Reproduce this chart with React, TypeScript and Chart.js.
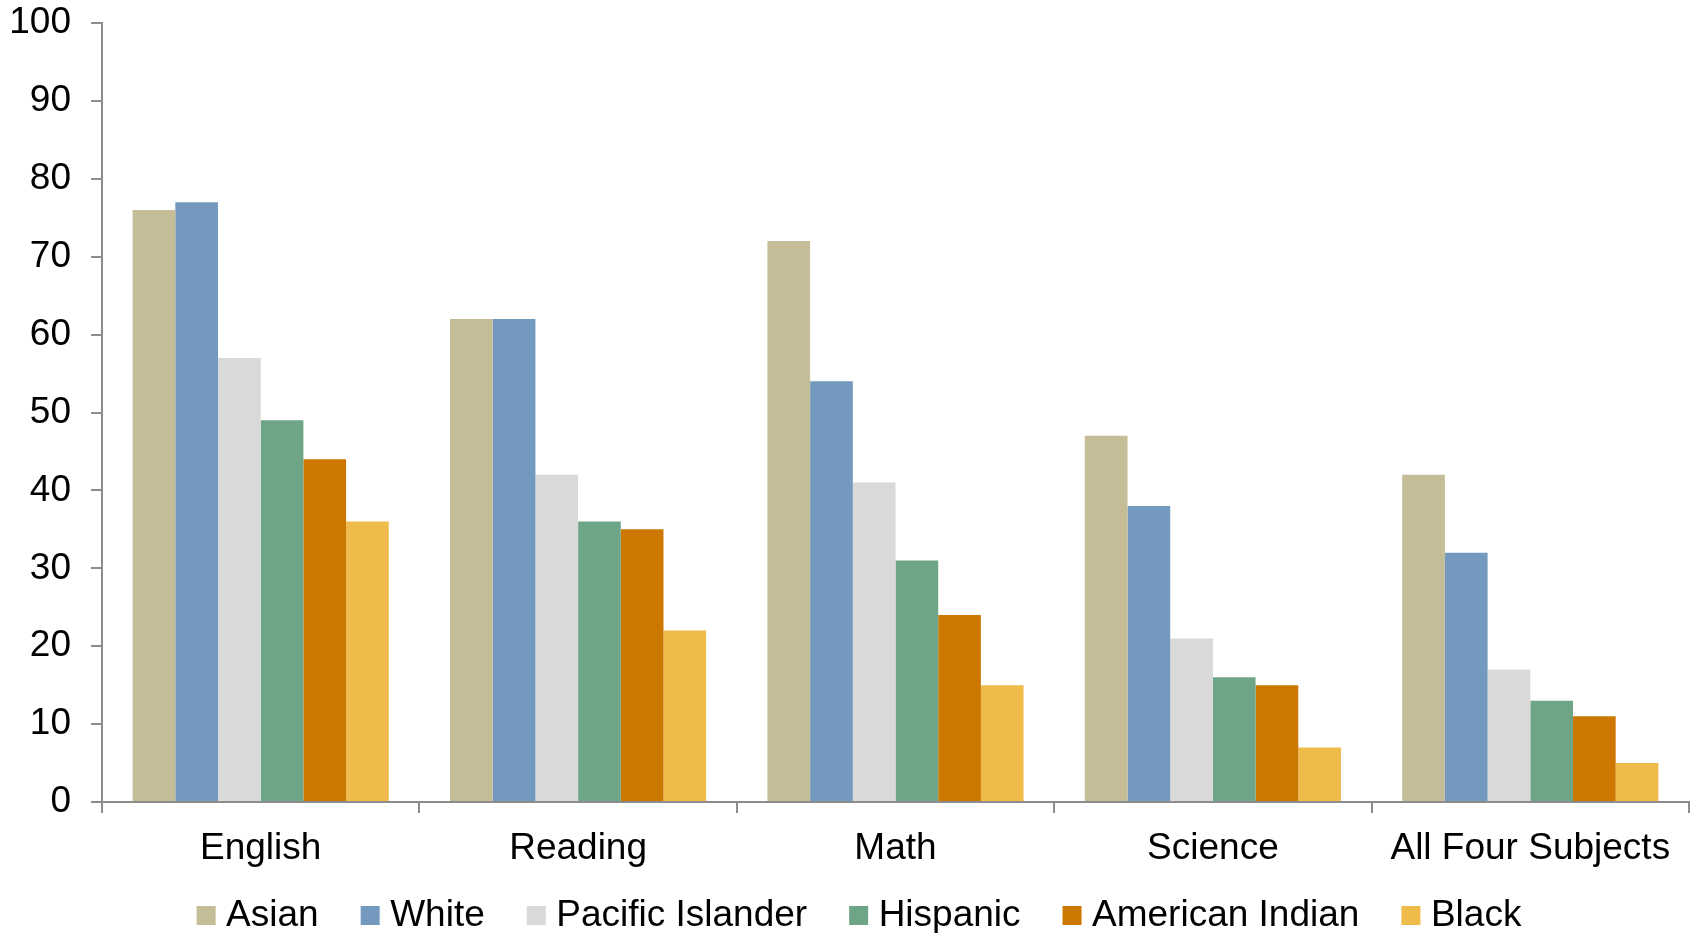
import React, { useEffect, useRef } from "react";
import { Chart, registerables } from "chart.js";

Chart.register(...registerables);

const categories = ["English", "Reading", "Math", "Science", "All Four Subjects"];
const seriesNames = ["Asian", "White", "Pacific Islander", "Hispanic", "American Indian", "Black"];
const asian = [76, 62, 72, 47, 42];
const white = [77, 62, 54, 38, 32];
const pacificIslander = [57, 42, 41, 21, 17];
const hispanic = [49, 36, 31, 16, 13];
const americanIndian = [44, 35, 24, 15, 11];
const black = [36, 22, 15, 7, 5];
const yTicks = [0, 10, 20, 30, 40, 50, 60, 70, 80, 90, 100];

const seriesValues = [asian, white, pacificIslander, hispanic, americanIndian, black];
const seriesColors = ["#C4BD97", "#7399BF", "#D9D9D9", "#6FA587", "#CC7700", "#EFBC4B"];

const legendShift = {
  id: "legendShift",
  afterLayout(chart: any) {
    const l = chart.legend;
    if (l) {
      l.left += 28;
      l.top -= 26;
      l.bottom -= 26;
    }
  },
};

export default function App() {
  const ref = useRef<HTMLCanvasElement | null>(null);
  useEffect(() => {
    if (!ref.current) return;
    const axisColor = "#8C8C8C";
    const font = { family: "'Liberation Sans', Arial, sans-serif", size: 37 };
    const chart = new Chart(ref.current, {
      type: "bar",
      data: {
        labels: categories,
        datasets: seriesNames.map((name, i) => ({
          label: name,
          data: seriesValues[i],
          backgroundColor: seriesColors[i],
          borderWidth: 0,
          categoryPercentage: 0.807,
          barPercentage: 1,
        })),
      },
      plugins: [legendShift],
      options: {
        responsive: false,
        animation: false,
        devicePixelRatio: 1,
        layout: { padding: { left: 9, right: 5, top: 23, bottom: 0 } },
        plugins: {
          tooltip: { enabled: false },
          legend: {
            position: "bottom",
            labels: {
              usePointStyle: true,
              pointStyle: "rect",
              boxWidth: 3,
              boxHeight: 19,
              padding: 50,
              color: "#000",
              font,
            },
          },
        },
        scales: {
          x: {
            afterFit: (scale: any) => {
              scale.paddingLeft = 0;
              scale.paddingRight = 0;
              scale.height = 71;
            },
            grid: {
              display: true,
              drawOnChartArea: false,
              drawTicks: true,
              tickLength: 11,
              color: axisColor,
              lineWidth: 2,
              offset: true,
            },
            border: { display: true, color: axisColor, width: 2 },
            ticks: { color: "#000", font: { ...font, lineHeight: 1.2 }, padding: 14, maxRotation: 0, autoSkip: false },
          },
          y: {
            min: 0,
            max: 100,
            afterBuildTicks: (axis: any) => {
              axis.ticks = yTicks.map((v) => ({ value: v }));
            },
            afterFit: (scale: any) => {
              scale.paddingTop = 0;
              scale.paddingBottom = 0;
              scale.width = 93;
            },
            grid: {
              display: true,
              drawOnChartArea: false,
              drawTicks: true,
              tickLength: 11,
              color: axisColor,
              lineWidth: 2,
            },
            border: { display: true, color: axisColor, width: 2 },
            ticks: { color: "#000", font, padding: 20 },
          },
        },
      },
    });
    return () => chart.destroy();
  }, []);
  return (
    <div style={{ position: "fixed", left: 0, top: 0, width: 1694, height: 933, overflow: "hidden", background: "#fff" }}>
      <canvas ref={ref} width={1694} height={970} style={{ display: "block" }} />
    </div>
  );
}
